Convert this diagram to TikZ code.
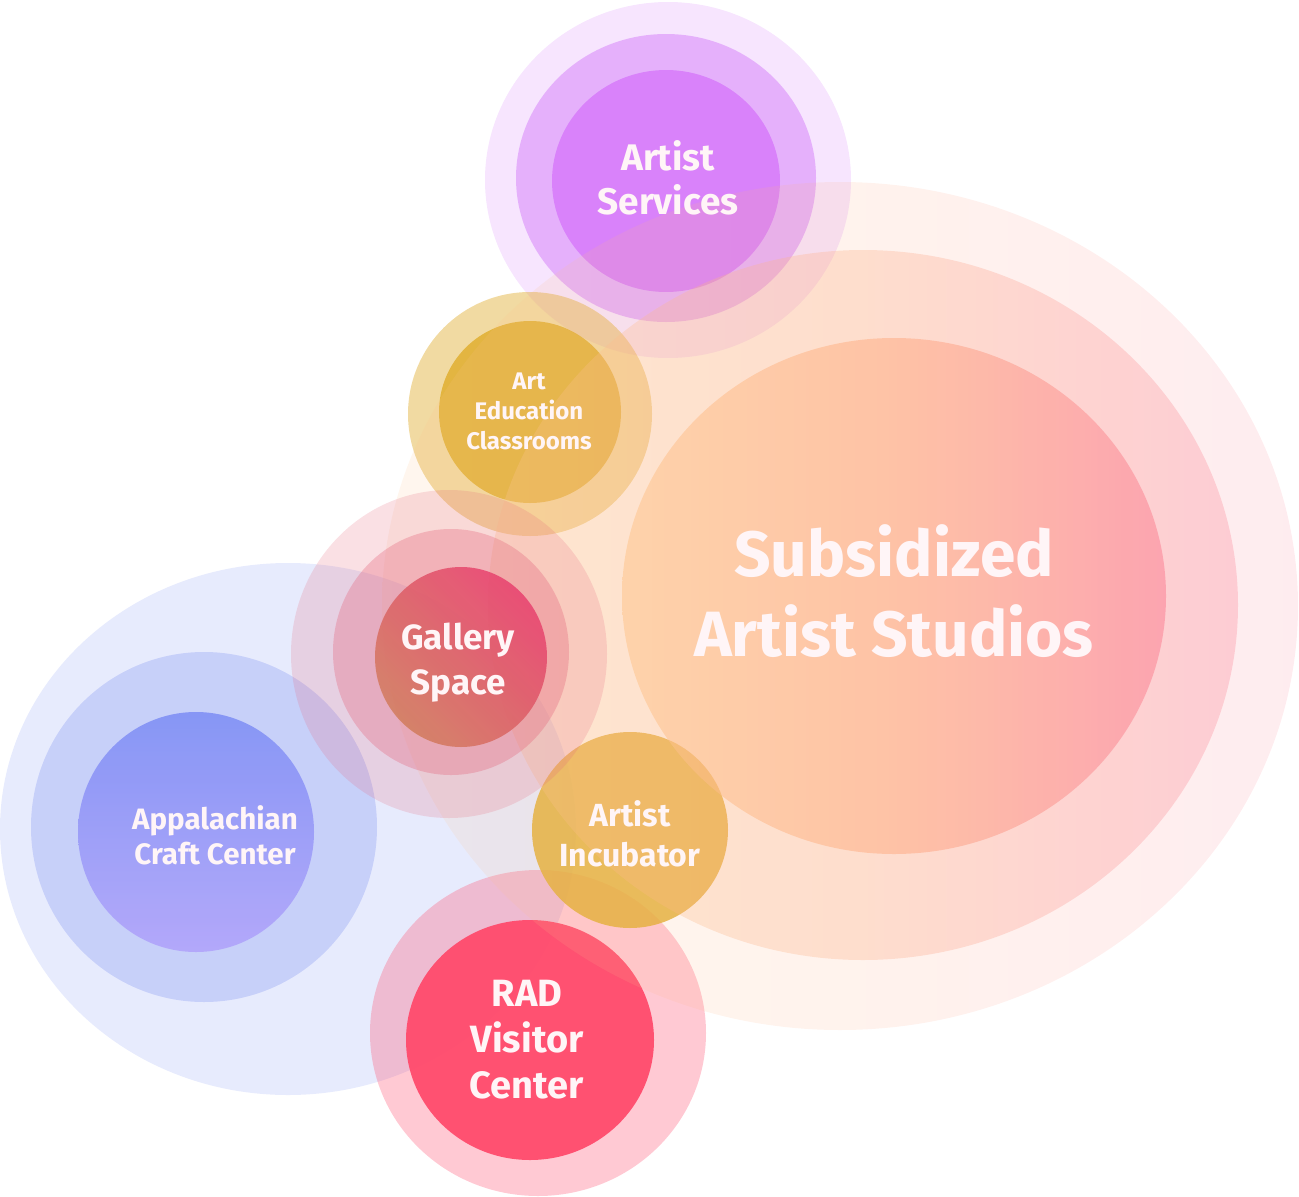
\documentclass[tikz,border=0pt]{standalone}
\usepackage{fontspec}
\setmainfont{Fira Sans}
\definecolor{purp}{HTML}{D070F8}
\definecolor{purpin}{HTML}{D677FA}
\definecolor{gold}{HTML}{E0AE30}
\definecolor{galbase}{HTML}{E4647A}
\definecolor{galA}{HTML}{D27C5C}
\definecolor{galB}{HTML}{E8406E}
\definecolor{blu}{HTML}{7C90F2}
\definecolor{bluA}{HTML}{7C8CF5}
\definecolor{bluB}{HTML}{B0A2FA}
\definecolor{incub}{HTML}{E2B036}
\definecolor{radc}{HTML}{FF4D6E}
\definecolor{peach}{HTML}{FDC58D}
\definecolor{peachmid}{HTML}{FDAE85}
\definecolor{pinkc}{HTML}{FB8195}
\definecolor{txt}{HTML}{FFF5F7}
\newcommand\lblfont[2]{\bfseries\fontsize{#1}{#2}\selectfont}
\tikzset{lbl/.style={text=txt, align=center, inner sep=0pt},
  studio/.style={left color=peach, right color=pinkc, middle color=peachmid}}
\begin{document}
\begin{tikzpicture}[x=1pt,y=-1pt]
\useasboundingbox (0,0) rectangle (1299,1197);
% Artist Services
\fill[purp, fill opacity=0.18] (668,180) ellipse [x radius=183pt, y radius=178pt];
\fill[purp, fill opacity=0.45] (666,178) ellipse [x radius=150pt, y radius=144pt];
\fill[purpin, fill opacity=0.8] (666,181) ellipse [x radius=114pt, y radius=111pt];
% Art Education
\fill[gold, fill opacity=0.45] (530,414) circle [radius=122pt];
\fill[gold, fill opacity=0.85] (530,412) circle [radius=91pt];
% Appalachian
\fill[blu, fill opacity=0.18] (288,829) ellipse [x radius=288pt, y radius=266pt];
\fill[blu, fill opacity=0.3] (204,827) ellipse [x radius=173pt, y radius=175pt];
\shade[top color=bluA, bottom color=bluB, fill opacity=0.85] (196,832) ellipse [x radius=118pt, y radius=120pt];
% RAD
\fill[radc, fill opacity=0.3] (538,1033) ellipse [x radius=168pt, y radius=163pt];
\fill[radc, fill opacity=0.97] (530,1040) ellipse [x radius=124pt, y radius=120pt];
% Incubator
\fill[incub, fill opacity=0.85] (630,830) circle [radius=98pt];
% Subsidized
\shade[studio, fill opacity=0.15] (840,606) ellipse [x radius=458pt, y radius=424pt];
\shade[studio, fill opacity=0.3] (863,605) ellipse [x radius=375pt, y radius=355pt];
\shade[studio, fill opacity=0.55] (894,596) ellipse [x radius=272pt, y radius=258pt];
% Gallery
\fill[galbase, fill opacity=0.2] (449,654) ellipse [x radius=158pt, y radius=164pt];
\fill[galbase, fill opacity=0.33] (451,652) ellipse [x radius=118pt, y radius=123pt];
\shade[top color=galB, bottom color=galA, shading angle=-45, fill opacity=0.85] (461,657) ellipse [x radius=86pt, y radius=90pt];
% labels
\node[lbl, font={\lblfont{37}{44}}] (svc) at (668,178) {Artist\\Services};
\node[lbl, font={\lblfont{24}{30}}] (edu) at (529,411) {Art\\Education\\Classrooms};
\node[lbl, font={\lblfont{35}{45}}] (gal) at (458,663) {Gallery\\Space};
\node[lbl, font={\lblfont{29.5}{35}}] (app) at (215,835) {Appalachian\\Craft Center};
\node[lbl, font={\lblfont{32}{40}}] (inc) at (630,834) {Artist\\Incubator};
\node[lbl, font={\lblfont{38}{46}}] (rad) at (527,1040) {RAD\\Visitor\\Center};
\node[lbl, font={\lblfont{64}{80}}] (sub) at (894,591) {Subsidized\\Artist Studios};
\end{tikzpicture}
\end{document}
